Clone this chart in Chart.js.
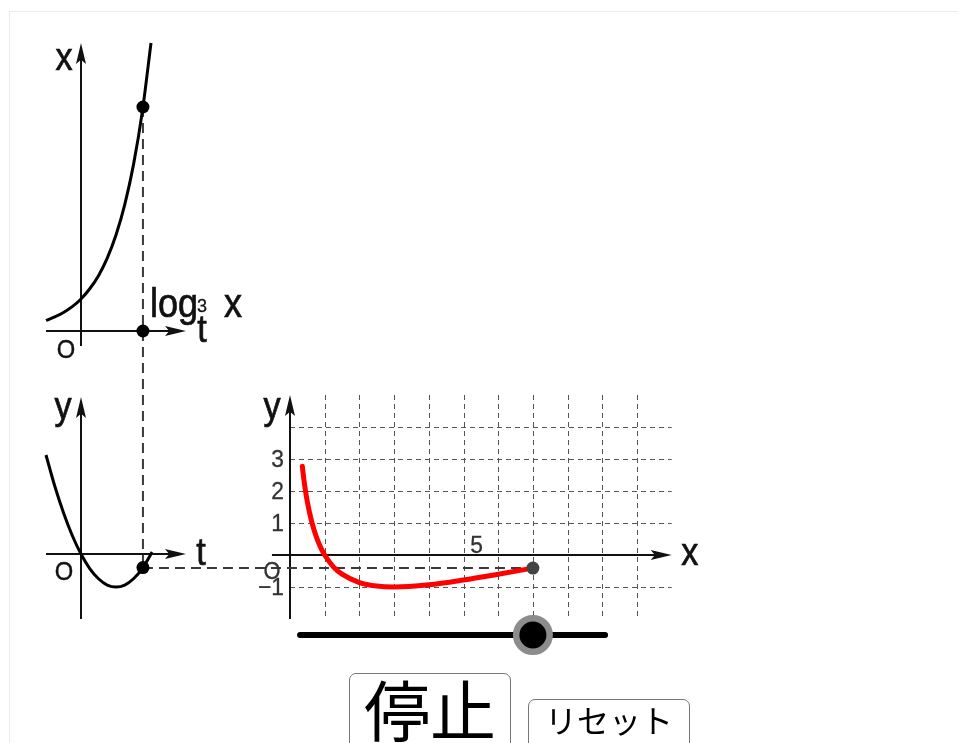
<!DOCTYPE html>
<html>
<head>
<meta charset="utf-8">
<script src="https://cdn.jsdelivr.net/npm/chart.js@4"></script>
<style>
  html, body { margin: 0; padding: 0; width: 958px; height: 743px; overflow: hidden; background: #fff; }
  #frame { position: absolute; left: 9px; top: 11px; width: 960px; height: 740px; border: 1px solid #ececec; box-sizing: border-box; }
  #plot { position: absolute; left: 0; top: 0; }
  button { position: absolute; margin: 0; padding: 0; box-sizing: border-box; background: #fff; color: #000;
           border: 1px solid #767676; border-radius: 7px; line-height: 1; font-family: "Noto Sans CJK JP", sans-serif; }
  #stop  { left: 349px; top: 673px; width: 162px; height: 82px; font-size: 66px; padding-bottom: 14px; }
  #reset { left: 528px; top: 699px; width: 162px; height: 60px; font-size: 32px; padding-bottom: 20px; }
</style>
</head>
<body>
<div id="frame"></div>
<canvas id="plot" width="958" height="743"></canvas>
<button id="stop">停止</button>
<button id="reset">リセット</button>
<script>
// Upper panel: x = 3^t
const expT = [-1, -0.75, -0.5, -0.25, 0, 0.25, 0.5, 0.75, 1, 1.25, 1.5, 1.75, 2];
const expX = [0.33, 0.44, 0.58, 0.76, 1, 1.32, 1.73, 2.28, 3, 3.95, 5.2, 6.84, 9];

// Lower panel: y against t
const parT = [-1, -0.75, -0.5, -0.25, 0, 0.25, 0.5, 0.75, 1, 1.25, 1.5, 1.75, 2, 2.03];
const parY = [3, 2.06, 1.25, 0.56, 0, -0.44, -0.75, -0.94, -1, -0.94, -0.75, -0.44, 0, 0.06];

// Traced path in the right panel: y against x
const traceX = [0.355, 0.4, 0.45, 0.5, 0.6, 0.7, 0.8, 0.9, 1, 1.25, 1.5, 2, 2.5, 3, 4, 5, 6, 7];
const traceY = [2.77, 2.36, 1.98, 1.66, 1.15, 0.76, 0.45, 0.2, 0, -0.37, -0.6, -0.86, -0.97, -1, -0.93, -0.78, -0.6, -0.41];

// Current position of the moving point
const curT = 1.77;
const curX = 7;
const curY = -0.41;

// Slider range (in x units) and its level
const sliderFrom = 0.29;
const sliderTo = 9.08;
const sliderLevel = -2.5;

// Right panel grid and tick labels
const gridX = [1, 2, 3, 4, 5, 6, 7, 8, 9, 10];
const gridY = [-1, 1, 2, 3, 4];
const yTickValues = [3, 2, 1, -1];
const yTickLabels = ['3', '2', '1', '\u22121'];
const xTickValue = 5;
const xTickLabel = '5';

// ---- layout: every scale spans the whole canvas, origin and unit chosen per panel
const W = 958, H = 743;
function hRange(origin, unit) { return { min: -origin / unit, max: (W - origin) / unit }; }
function vRange(origin, unit) { return { min: (origin - H) / unit, max: origin / unit }; }
function linScale(axis, range) {
  return Object.assign({ type: 'linear', axis: axis, display: false, bounds: 'data', grace: 0,
    position: axis === 'x' ? 'bottom' : 'left' }, range);
}

// Axis extents of each panel
const panels = [
  { xs: 'xT', ys: 'yX', x0: -1.0, x1: 3.0, y0: -0.47, y1: 9.0 },
  { xs: 'xT', ys: 'yY', x0: -1.0, x1: 3.0, y0: -1.97, y1: 4.76 },
  { xs: 'xX', ys: 'yR', x0: -0.52, x1: 11.0, y0: -2.0, y1: 5.0 }
];

const pts = (xs, ys) => xs.map((v, i) => ({ x: v, y: ys[i] }));

function txt(ctx, s, x, y, size, o) {
  o = o || {};
  ctx.save();
  ctx.font = size + 'px "Liberation Sans", Arial, sans-serif';
  ctx.fillStyle = o.color || '#111';
  ctx.strokeStyle = o.color || '#111';
  ctx.lineWidth = o.weight === undefined ? 0.7 : o.weight;
  ctx.textAlign = o.align || 'center';
  ctx.textBaseline = o.base || 'alphabetic';
  ctx.translate(x, y);
  ctx.scale(o.sx || 0.9, 1);
  ctx.fillText(s, 0, 0);
  if (ctx.lineWidth > 0) ctx.strokeText(s, 0, 0);
  ctx.restore();
}

function seg(ctx, ax, ay, bx, by) {
  ctx.beginPath(); ctx.moveTo(ax, ay); ctx.lineTo(bx, by); ctx.stroke();
}

function arrowAxis(ctx, ax, ay, bx, by) {
  const ang = Math.atan2(by - ay, bx - ax), L = 21, hw = 5;
  const c = Math.cos(ang), s = Math.sin(ang);
  seg(ctx, ax, ay, bx - L * 0.7 * c, by - L * 0.7 * s);
  ctx.beginPath();
  ctx.moveTo(bx, by);
  ctx.lineTo(bx - L * c - hw * s, by - L * s + hw * c);
  ctx.lineTo(bx - L * 0.8 * c, by - L * 0.8 * s);
  ctx.lineTo(bx - L * c + hw * s, by - L * s - hw * c);
  ctx.closePath();
  ctx.fill();
}

const sketch = {
  id: 'sketch',
  beforeDatasetsDraw(chart) {
    const ctx = chart.ctx, S = chart.scales;
    const R = panels[2];
    // dashed grid of the right panel
    ctx.save();
    ctx.strokeStyle = '#555';
    ctx.lineWidth = 1;
    ctx.setLineDash([5, 4]);
    gridX.forEach(v => {
      const px = Math.round(S.xX.getPixelForValue(v)) + 0.5;
      seg(ctx, px, S.yR.getPixelForValue(R.y1), px, S.yR.getPixelForValue(R.y0));
    });
    gridY.forEach(v => {
      const py = Math.round(S.yR.getPixelForValue(v)) + 0.5;
      seg(ctx, S.xX.getPixelForValue(0), py, S.xX.getPixelForValue(R.x1), py);
    });
    ctx.restore();

    // axes with arrow heads
    ctx.save();
    ctx.strokeStyle = '#111';
    ctx.fillStyle = '#111';
    ctx.lineWidth = 2;
    panels.forEach(p => {
      const sx = S[p.xs], sy = S[p.ys];
      const ox = sx.getPixelForValue(0), oy = sy.getPixelForValue(0);
      arrowAxis(ctx, sx.getPixelForValue(p.x0), oy, sx.getPixelForValue(p.x1), oy);
      arrowAxis(ctx, ox, sy.getPixelForValue(p.y0), ox, sy.getPixelForValue(p.y1));
    });
    ctx.restore();

    // dashed guides linking the three panels
    ctx.save();
    ctx.strokeStyle = '#3a3a3a';
    ctx.lineWidth = 2;
    ctx.setLineDash([10, 6]);
    const gx = S.xT.getPixelForValue(curT);
    const gyTop = S.yX.getPixelForValue(curX);
    const gyBot = S.yY.getPixelForValue(curY);
    seg(ctx, gx, gyTop, gx, gyBot);
    const hy = S.yR.getPixelForValue(curY);
    seg(ctx, gx, hy, S.xX.getPixelForValue(curX), hy);
    ctx.restore();
  },
  afterDatasetsDraw(chart) {
    const ctx = chart.ctx, S = chart.scales;
    // upper panel labels
    let ox = S.xT.getPixelForValue(0), oy = S.yX.getPixelForValue(0);
    let tipX = S.xT.getPixelForValue(panels[0].x1), tipY = S.yX.getPixelForValue(panels[0].y1);
    txt(ctx, 'x', ox - 17, tipY + 27, 38);
    txt(ctx, 't', tipX + 16, oy + 11, 38);
    txt(ctx, 'O', ox - 15, oy + 27, 25, { sx: 0.95, weight: 0.4 });
    txt(ctx, 'log', 150, 317, 40, { align: 'left' });
    txt(ctx, '3', 197, 312, 19, { align: 'left', sx: 0.95, weight: 0.3 });
    txt(ctx, 'x', 242, 317, 40, { align: 'right' });

    // lower-left panel labels
    oy = S.yY.getPixelForValue(0);
    tipY = S.yY.getPixelForValue(panels[1].y1);
    txt(ctx, 'y', ox - 18, tipY + 22, 38);
    txt(ctx, 't', tipX + 15, oy + 11, 38);
    txt(ctx, 'O', ox - 17, oy + 26, 25, { sx: 0.95, weight: 0.4 });

    // right panel labels
    ox = S.xX.getPixelForValue(0); oy = S.yR.getPixelForValue(0);
    tipX = S.xX.getPixelForValue(panels[2].x1); tipY = S.yR.getPixelForValue(panels[2].y1);
    txt(ctx, 'y', ox - 18, tipY + 24, 38);
    txt(ctx, 'x', tipX + 18, oy + 10, 38);
    txt(ctx, 'O', ox - 18, oy + 24, 23, { sx: 0.95, color: '#333', weight: 0.3 });
    yTickValues.forEach((v, i) => {
      txt(ctx, yTickLabels[i], ox - 6, S.yR.getPixelForValue(v) + 1, 24,
        { align: 'right', base: 'middle', sx: 0.95, color: '#333', weight: 0.3 });
    });
    txt(ctx, xTickLabel, S.xX.getPixelForValue(xTickValue) + 13, oy - 2, 24, { sx: 0.95, color: '#333', weight: 0.3 });
  }
};

new Chart(document.getElementById('plot'), {
  type: 'scatter',
  data: {
    datasets: [
      // slider knob
      { data: [{ x: curX, y: sliderLevel }], xAxisID: 'xX', yAxisID: 'yR', order: 0,
        pointRadius: 16.75, pointBackgroundColor: '#000', pointBorderColor: '#8c8c8c', pointBorderWidth: 6.5, showLine: false },
      // slider track
      { data: [{ x: sliderFrom, y: sliderLevel }, { x: sliderTo, y: sliderLevel }], xAxisID: 'xX', yAxisID: 'yR', order: 1,
        showLine: true, borderColor: '#000', borderWidth: 6, borderCapStyle: 'round', pointRadius: 0 },
      // moving points
      { data: [{ x: curT, y: curX }, { x: curT, y: 0 }], xAxisID: 'xT', yAxisID: 'yX', order: 2,
        pointRadius: 6.5, pointBackgroundColor: '#000', pointBorderWidth: 0, showLine: false },
      { data: [{ x: curT, y: curY }], xAxisID: 'xT', yAxisID: 'yY', order: 2,
        pointRadius: 6.5, pointBackgroundColor: '#000', pointBorderWidth: 0, showLine: false },
      { data: [{ x: curX, y: curY }], xAxisID: 'xX', yAxisID: 'yR', order: 2,
        pointRadius: 6.5, pointBackgroundColor: '#444', pointBorderWidth: 0, showLine: false },
      // curves
      { data: pts(traceX, traceY), xAxisID: 'xX', yAxisID: 'yR', order: 3,
        showLine: true, borderColor: '#ff0000', borderWidth: 5, cubicInterpolationMode: 'monotone',
        borderCapStyle: 'round', pointRadius: 0 },
      { data: pts(expT, expX), xAxisID: 'xT', yAxisID: 'yX', order: 3,
        showLine: true, borderColor: '#000', borderWidth: 3, cubicInterpolationMode: 'monotone', pointRadius: 0 },
      { data: pts(parT, parY), xAxisID: 'xT', yAxisID: 'yY', order: 3,
        showLine: true, borderColor: '#000', borderWidth: 3, cubicInterpolationMode: 'monotone', pointRadius: 0 }
    ]
  },
  options: {
    responsive: false,
    animation: false,
    devicePixelRatio: 1,
    events: [],
    layout: { padding: 0, autoPadding: false },
    plugins: { legend: { display: false }, tooltip: { enabled: false }, title: { display: false } },
    datasets: { scatter: { clip: false } },
    scales: {
      xT: linScale('x', hRange(81, 35)),
      yX: linScale('y', vRange(331, 32)),
      yY: linScale('y', vRange(554, 33)),
      xX: linScale('x', hRange(290, 34.7)),
      yR: linScale('y', vRange(555, 32))
    }
  },
  plugins: [sketch]
});
</script>
</body>
</html>
